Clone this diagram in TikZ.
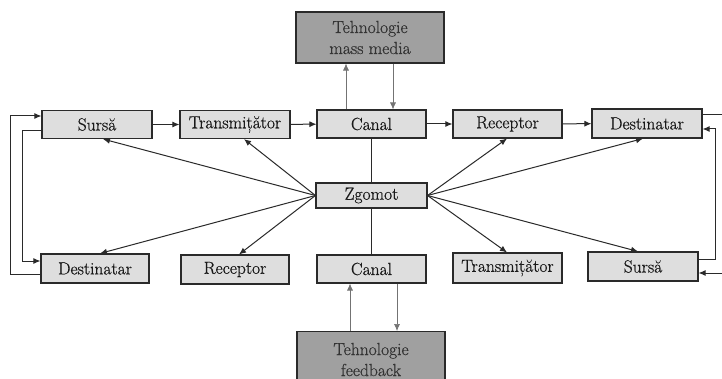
\documentclass[tikz,border=0pt]{standalone}
\usepackage{fontspec}
\newfontfamily\lblfont{Latin Modern Roman}[FakeBold=0.7]
\usetikzlibrary{arrows.meta}
\definecolor{boxfill}{HTML}{DEDEDE}
\definecolor{techfill}{HTML}{A0A0A0}
\definecolor{edge}{HTML}{2A2A2A}
\tikzset{
  blk/.style={draw=edge, line width=1.1pt, fill=boxfill, inner sep=0pt,
    font=\lblfont\fontsize{17.5}{20}\selectfont, text=black!90},
  tech/.style={draw=edge, line width=1.1pt, fill=techfill, inner sep=0pt,
    align=center, font=\lblfont\fontsize{17.5}{21}\selectfont, text=black!80},
  arr/.style={draw=edge, line width=1pt, -{Latex[length=7pt,width=6pt]}},
  thinarr/.style={draw=black!55, line width=0.7pt, -{Latex[length=7pt,width=6pt]}},
  plain/.style={draw=edge, line width=1pt},
}
\begin{document}
\begin{tikzpicture}[x=1pt,y=-1pt]
\clip (0,0) rectangle (722,379);
\fill[white] (0,0) rectangle (722,379);

% top row
\node[blk, minimum width=110pt, minimum height=28pt] (s1) at (97,124.5) {Sursă};
\node[blk, minimum width=110pt, minimum height=28pt] (t1) at (235,124.5) {Transmițător};
\node[blk, minimum width=109pt, minimum height=28pt] (c1) at (371.5,124) {Canal};
\node[blk, minimum width=109pt, minimum height=28pt] (r1) at (507.5,124) {Receptor};
\node[blk, minimum width=110pt, minimum height=29pt] (d1) at (647,123.5) {Destinatar};

% noise source
\node[blk, minimum width=111pt, minimum height=25pt] (z) at (371.5,195.5) {Zgomot};

% bottom row
\node[blk, minimum width=108pt, minimum height=29pt] (d2) at (95,268.5) {Destinatar};
\node[blk, minimum width=108pt, minimum height=29pt] (r2) at (235,269.5) {Receptor};
\node[blk, minimum width=109pt, minimum height=28pt] (c2) at (371.5,269) {Canal};
\node[blk, minimum width=109pt, minimum height=30pt] (t2) at (507.5,268) {Transmițător};
\node[blk, minimum width=110pt, minimum height=29pt] (s2) at (643,266.5) {Sursă};

% technology boxes
\node[tech, minimum width=148pt, minimum height=51pt] (mm) at (370,37.5) {Tehnologie\\mass media};
\node[tech, minimum width=148pt, minimum height=56pt, anchor=north] (fb) at (371,331) {Tehnologie\\feedback};

% forward chain
\draw[arr] (s1) -- (t1);
\draw[arr] (t1) -- (c1);
\draw[arr] (c1) -- (r1);
\draw[arr] (r1) -- (d1);

% canal <-> technology
\draw[thinarr] (c1.north -| 346,0) -- (mm.south -| 346,0);
\draw[thinarr] (mm.south -| 393,0) -- (c1.north -| 393,0);
\draw[thinarr] (fb.north -| 350,0) -- (c2.south -| 350,0);
\draw[thinarr] (c2.south -| 397,0) -- (fb.north -| 397,0);

% noise links
\draw[plain] (c1) -- (z);
\draw[plain] (z) -- (c2);
\coordinate (zl) at (z.west);
\coordinate (zr) at (z.east);
\draw[arr] (zl) -- (s1.south -| 103,0);
\draw[arr] (zl) -- (t1.south -| 244,0);
\draw[arr] (zl) -- (d2.north -| 100,0);
\draw[arr] (zl) -- (r2.north -| 239,0);
\draw[arr] (zr) -- (r1.south -| 507,0);
\draw[arr] (zr) -- (d1.south -| 643,0);
\draw[arr] (zr) -- (t2.north -| 507,0);
\draw[arr] (zr) -- (s2.north -| 638,0);

% left feedback loop
\draw[arr] (d2.west |- 0,274) -- (10,274) -- (10,116) -- (s1.west |- 0,116);
\draw[arr] (s1.west |- 0,131) -- (22,131) -- (22,261) -- (d2.west |- 0,261);

% right feedback loop
\draw[plain] (d1.east |- 0,115) -- (730,115);
\draw[arr] (s2.east |- 0,259) -- (715,259) -- (715,129) -- (d1.east |- 0,129);
\draw[arr] (730,273) -- (s2.east |- 0,273);
\end{tikzpicture}
\end{document}
